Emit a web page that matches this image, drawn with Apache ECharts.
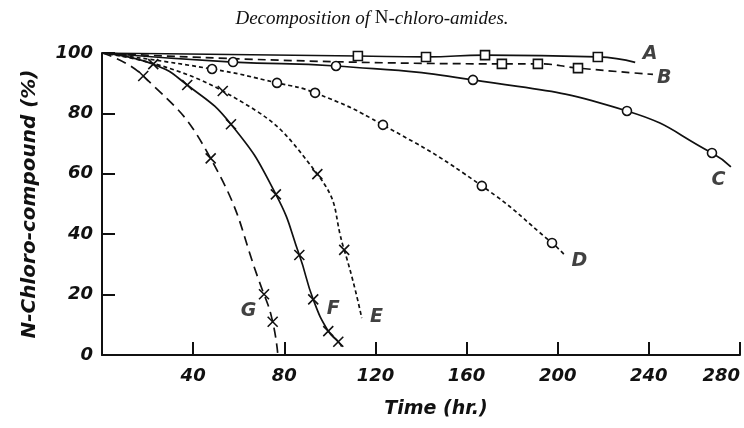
<!DOCTYPE html>
<html><head><meta charset="utf-8">
<script src="https://cdn.jsdelivr.net/npm/echarts@6/dist/echarts.min.js"></script>
<style>html,body{margin:0;padding:0;background:#fff}#c{width:744px;height:428px}</style>
</head><body><div id="c"></div>
<script>
// ---- data (time in hr, N-chloro-compound in %) ----
const originPoint = [0, 100];
const pointsA = [[112.3, 99.0], [142.2, 98.7], [168.1, 99.3], [217.6, 98.7]];
const endA = [234.0, 96.9];
const pointsB = [[175.5, 96.4], [191.3, 96.4], [208.9, 95.0]];
const endB = [241.8, 92.9];
const pointsC = [[57.5, 97.0], [102.7, 95.7], [162.8, 91.1], [230.4, 80.8], [267.7, 66.9]];
const endC = [276.0, 62.3];
const pointsD = [[48.3, 94.7], [76.8, 90.1], [93.5, 86.8], [123.3, 76.2], [166.7, 56.0], [197.5, 37.1]];
const endD = [202.7, 33.4];
const pointsE = [[53.0, 87.4], [94.5, 59.9], [106.3, 34.8]];
const endE = [114.0, 12.2];
const pointsF = [[22.5, 96.3], [37.4, 89.4], [56.6, 76.4], [76.3, 53.2], [86.6, 33.1], [92.7, 18.4], [99.3, 7.9], [103.7, 4.4]];
const endF = [105.2, 2.8];
const pointsG = [[18.1, 92.4], [47.7, 65.1], [71.1, 20.1], [74.9, 11.0]];
const endG = [77.1, 0.7];
const curveNames = ['A', 'B', 'C', 'D', 'E', 'F', 'G'];
const labelPositions = [[240.5, 99.6], [246.8, 91.6], [270.5, 57.8], [209.5, 31.0], [120.5, 12.5], [101.5, 15.2], [64.3, 14.6]];
const xTickLabels = ['', '40', '80', '120', '160', '200', '240', '280'];
const yTickLabels = ['0', '20', '40', '60', '80', '100'];

const INK = '#111';
const CROSS = 'path://M0,0L10,10M10,0L0,10';

function build(points, end) {
  return [{ value: originPoint, symbol: 'none' }].concat(points.map(p => ({ value: p })), [{ value: end, symbol: 'none' }]);
}
function curve(name, points, end, symbol, dash, size) {
  return {
    type: 'line', name: name, data: build(points, end),
    smooth: 0.5,
    symbol: symbol, symbolSize: size,
    lineStyle: { color: INK, width: 1.7, type: dash },
    itemStyle: { color: symbol === CROSS ? INK : '#fff', borderColor: INK, borderWidth: 1.6 },
    emphasis: { disabled: true }, animation: false, z: symbol === CROSS ? 3 : 4
  };
}

const chart = echarts.init(document.getElementById('c'), null, { renderer: 'canvas' });
const axisFont = { fontFamily: 'DejaVu Sans', fontStyle: 'italic', fontWeight: 'bold', fontSize: 18, letterSpacing: 2, color: INK };
const nameFont = { fontFamily: 'DejaVu Sans', fontStyle: 'italic', fontWeight: 'bold', color: INK };
chart.setOption({
  animation: false,
  title: {
    left: 'center', top: 4,
    text: '{i|Decomposition of }{n|N}{i|-chloro-amides.}',
    textStyle: { fontWeight: 'normal', rich: {
      i: { fontFamily: 'Liberation Serif', fontStyle: 'italic', fontWeight: 'normal', fontSize: 19, color: INK },
      n: { fontFamily: 'Liberation Serif', fontStyle: 'normal', fontWeight: 'normal', fontSize: 19, color: INK }
    } }
  },
  grid: { left: 102, right: 4, top: 53, bottom: 73, containLabel: false },
  xAxis: {
    type: 'value', min: 0, max: 280, interval: 40,
    name: 'Time (hr.)', nameLocation: 'middle', nameGap: 45,
    nameTextStyle: Object.assign({ fontSize: 19, letterSpacing: 2, padding: [0, 0, 0, 30] }, nameFont),
    axisLine: { lineStyle: { color: INK, width: 2 } },
    axisTick: { inside: true, length: 13, lineStyle: { color: INK, width: 2 } },
    axisLabel: Object.assign({ margin: 12, alignMaxLabel: 'right', formatter: v => xTickLabels[Math.round(v / 40)] }, axisFont),
    splitLine: { show: false }
  },
  yAxis: {
    type: 'value', min: 0, max: 100, interval: 20,
    name: 'N-Chloro-compound (%)', nameLocation: 'middle', nameGap: 62,
    nameTextStyle: Object.assign({ fontSize: 20, letterSpacing: 3 }, nameFont),
    axisLine: { lineStyle: { color: INK, width: 2 } },
    axisTick: { inside: true, length: 13, lineStyle: { color: INK, width: 2 } },
    axisLabel: Object.assign({ margin: 9, formatter: v => yTickLabels[Math.round(v / 20)] }, axisFont),
    splitLine: { show: false }
  },
  series: [
    curve('A', pointsA, endA, 'rect', 'solid', 9),
    curve('B', pointsB, endB, 'rect', [8, 5], 9),
    curve('C', pointsC, endC, 'circle', 'solid', 9),
    curve('D', pointsD, endD, 'circle', [4, 3], 9),
    curve('E', pointsE, endE, CROSS, [4, 3], 10),
    curve('F', pointsF, endF, CROSS, 'solid', 10),
    curve('G', pointsG, endG, CROSS, [10, 6], 10),
    {
      type: 'scatter', name: 'labels', symbolSize: 0, animation: false, silent: true,
      data: curveNames.map((n, i) => ({ name: n, value: labelPositions[i] })),
      label: { show: true, position: 'inside', formatter: '{b}', fontFamily: 'DejaVu Sans', fontStyle: 'italic', fontWeight: 'bold', fontSize: 19, color: INK }
    }
  ]
});
</script>
</body></html>
